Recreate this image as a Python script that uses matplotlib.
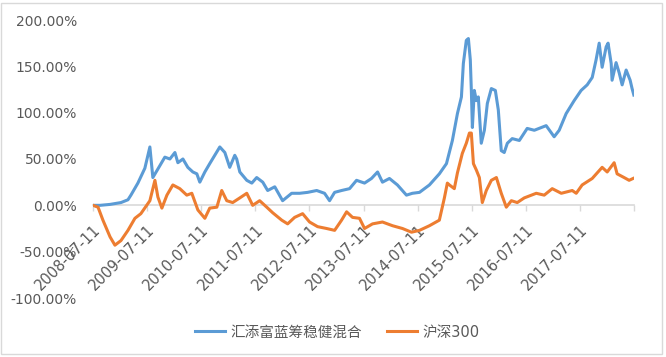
import matplotlib
matplotlib.use("Agg")
import matplotlib.pyplot as plt
import matplotlib.dates as mdates
import matplotlib.ticker as mticker
from matplotlib.patches import Rectangle
import pandas as pd

plt.rcParams['font.family'] = ['DejaVu Sans', 'Noto Sans CJK SC']

fund_name = "汇添富蓝筹稳健混合"
index_name = "沪深300"

fund_dates = [
    "2008-07-11", "2008-08-27", "2008-11-03", "2009-01-16", "2009-03-04", "2009-03-24",
    "2009-05-10", "2009-06-26", "2009-07-30", "2009-08-19", "2009-10-06", "2009-11-08",
    "2009-12-12", "2010-01-15", "2010-02-04", "2010-03-10", "2010-04-12", "2010-05-16",
    "2010-06-12", "2010-07-02", "2010-08-05", "2010-09-07", "2010-10-11", "2010-11-14",
    "2010-12-18", "2011-01-20", "2011-02-23", "2011-03-08", "2011-03-29", "2011-05-15",
    "2011-06-18", "2011-07-21", "2011-08-31", "2011-10-03", "2011-11-20", "2012-01-12",
    "2012-03-13", "2012-05-06", "2012-06-29", "2012-08-29", "2012-10-21", "2012-11-24",
    "2012-12-28", "2013-02-13", "2013-04-08", "2013-05-25", "2013-07-18", "2013-09-03",
    "2013-10-14", "2013-11-16", "2014-01-02", "2014-02-25", "2014-04-27", "2014-06-06",
    "2014-07-24", "2014-09-29", "2014-12-05", "2015-01-22", "2015-03-03", "2015-04-06",
    "2015-05-03", "2015-05-16", "2015-06-05", "2015-06-19", "2015-07-02", "2015-07-09",
    "2015-07-16", "2015-07-29", "2015-08-12", "2015-08-25", "2015-09-14", "2015-10-05",
    "2015-10-25", "2015-11-21", "2015-12-18", "2016-01-07", "2016-01-27", "2016-02-16",
    "2016-03-08", "2016-04-10", "2016-05-28", "2016-07-20", "2016-09-06", "2016-11-25",
    "2017-01-18", "2017-02-21", "2017-04-09", "2017-06-02", "2017-07-19", "2017-08-29",
    "2017-10-02", "2017-10-28", "2017-11-18", "2017-12-08", "2018-01-04", "2018-01-17",
    "2018-02-07", "2018-02-13", "2018-03-12", "2018-04-02", "2018-04-22", "2018-05-19",
    "2018-06-15", "2018-06-28", "2018-07-10",
]
fund_values = [
    0, 0, 1, 3, 6, 11,
    24, 40, 63, 30, 43, 52,
    50, 57, 46, 50, 41, 36,
    34, 25, 36, 45, 54, 63,
    57, 41, 54, 50, 36, 27,
    24, 30, 25, 16, 20, 5,
    13, 13, 14, 16, 13, 5,
    14, 16, 18, 27, 24, 29,
    36, 25, 29, 22, 11, 13,
    14, 22, 34, 45, 70, 99,
    117, 153, 178, 180, 157, 124,
    84, 124, 113, 117, 67, 81,
    110, 126, 124, 103, 59, 57,
    67, 72, 70, 83, 81, 86,
    74, 81, 99, 113, 124, 130,
    138, 157, 175, 149, 171, 175,
    153, 135, 154, 143, 130, 146,
    135, 126, 119,
]

index_dates = [
    "2008-07-11", "2008-08-14", "2008-09-16", "2008-11-03", "2008-12-06", "2009-01-16",
    "2009-03-04", "2009-04-20", "2009-05-30", "2009-07-17", "2009-07-30", "2009-09-02",
    "2009-09-22", "2009-10-19", "2009-11-22", "2010-01-01", "2010-02-17", "2010-04-05",
    "2010-05-09", "2010-06-19", "2010-08-05", "2010-09-07", "2010-10-25", "2010-11-27",
    "2010-12-31", "2011-02-09", "2011-03-29", "2011-05-15", "2011-06-24", "2011-08-10",
    "2011-09-27", "2011-11-06", "2012-01-06", "2012-02-15", "2012-04-02", "2012-05-26",
    "2012-07-12", "2012-09-04", "2012-11-04", "2012-12-28", "2013-02-13", "2013-03-19",
    "2013-04-28", "2013-06-14", "2013-07-18", "2013-09-10", "2013-11-16", "2014-01-23",
    "2014-03-31", "2014-05-31", "2014-07-24", "2014-09-29", "2014-12-05", "2015-01-08",
    "2015-01-28", "2015-02-11", "2015-03-16", "2015-04-06", "2015-05-09", "2015-06-05",
    "2015-06-26", "2015-07-09", "2015-07-23", "2015-08-12", "2015-09-01", "2015-09-21",
    "2015-10-18", "2015-11-21", "2015-12-25", "2016-01-27", "2016-03-01", "2016-04-04",
    "2016-05-14", "2016-06-30", "2016-09-19", "2016-11-12", "2017-01-05", "2017-03-07",
    "2017-05-20", "2017-06-16", "2017-07-26", "2017-10-02", "2017-12-08", "2018-01-11",
    "2018-02-27", "2018-03-19", "2018-05-05", "2018-06-08", "2018-07-05",
]
index_values = [
    0, -2, -16, -34, -43, -38,
    -27, -14, -9, 2, 5, 27,
    9, -3, 11, 22, 18, 11,
    13, -5, -14, -3, -2, 16,
    5, 3, 8, 13, 0, 5,
    -2, -8, -16, -20, -13, -9,
    -18, -23, -25, -27, -16, -7,
    -13, -14, -25, -20, -18, -22,
    -25, -29, -27, -22, -16, 8,
    24, 22, 18, 35, 56, 67,
    78, 78, 45, 38, 30, 3,
    16, 27, 30, 13, -2, 5,
    3, 8, 13, 11, 18, 13,
    16, 13, 22, 29, 41, 36,
    46, 34, 30, 27, 29,
]

tick_dates = ["2008-07-11", "2009-07-11", "2010-07-11", "2011-07-11", "2012-07-11",
              "2013-07-11", "2014-07-11", "2015-07-11", "2016-07-11", "2017-07-11",
              "2018-07-11"]
tick_labels = ["2008-07-11", "2009-07-11", "2010-07-11", "2011-07-11", "2012-07-11",
               "2013-07-11", "2014-07-11", "2015-07-11", "2016-07-11", "2017-07-11", ""]
y_ticks = [-100, -50, 0, 50, 100, 150, 200]

BLUE = "#5B9BD5"
ORANGE = "#ED7D31"
TEXT = "#595959"
GRID = "#D9D9D9"

fig = plt.figure(figsize=(6.66, 3.57), dpi=100)
ax = fig.add_axes([93 / 666, 1 - 298 / 357, (634 - 93) / 666, (298 - 20) / 357])

# spine placement first (it resets the ticks)
for s in ['top', 'right', 'left']:
    ax.spines[s].set_visible(False)
ax.spines['bottom'].set_position(('data', 0))
ax.spines['bottom'].set_color(GRID)
ax.spines['bottom'].set_linewidth(1.2)
ax.spines['bottom'].set_zorder(0)

fx = mdates.date2num(pd.to_datetime(fund_dates).to_pydatetime())
ix = mdates.date2num(pd.to_datetime(index_dates).to_pydatetime())
tx = mdates.date2num(pd.to_datetime(tick_dates).to_pydatetime())

ax.plot(fx, fund_values, color=BLUE, lw=2.2, label=fund_name, solid_joinstyle='round')
ax.plot(ix, index_values, color=ORANGE, lw=2.2, label=index_name, solid_joinstyle='round')

ax.set_xlim(tx[0], tx[-1])
ax.set_ylim(-100, 200)
ax.tick_params(axis='y', length=0, pad=11.5, labelcolor=TEXT, labelsize=10)
ax.tick_params(axis='x', direction='out', length=4, width=1, color=GRID, pad=8,
               labelcolor=TEXT, labelsize=10.5)
ax.set_yticks(y_ticks)
ax.yaxis.set_major_formatter(mticker.FuncFormatter(lambda v, p: f"{v:.2f}%"))
ax.set_xticks(tx)
ax.set_xticklabels(tick_labels)
for lbl in ax.get_xticklabels():
    lbl.set_rotation(45)
    lbl.set_ha('right')
    lbl.set_va('top')
    lbl.set_rotation_mode('anchor')

fig.legend(loc='center', bbox_to_anchor=(337 / 666, 1 - 332 / 357), ncol=2, frameon=False,
           fontsize=10.5, handlelength=2.1, handletextpad=0.35, columnspacing=1.7,
           labelcolor=TEXT)

fig.patches.append(Rectangle((1 / 666, 3 / 357), 661 / 666, 351 / 357, transform=fig.transFigure,
                             fill=False, edgecolor=GRID, lw=1))

fig.savefig("out.png", dpi=100, facecolor='white')
